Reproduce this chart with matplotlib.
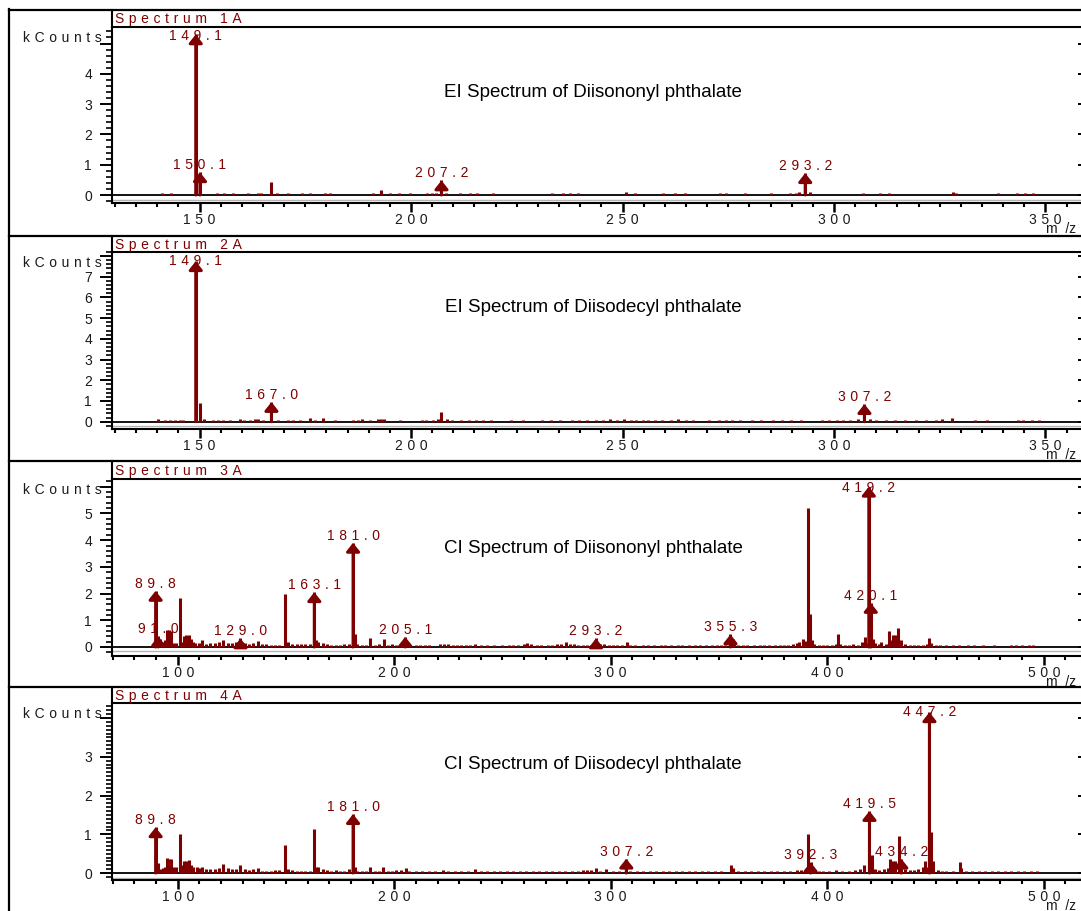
import matplotlib
matplotlib.use('Agg')
import matplotlib.pyplot as plt
from matplotlib.ticker import MultipleLocator, FixedLocator, FuncFormatter
from matplotlib.lines import Line2D

# ---------------- data ----------------
panel_titles = ['Spectrum 1A', 'Spectrum 2A', 'Spectrum 3A', 'Spectrum 4A']
compound_titles = ['EI Spectrum of Diisononyl phthalate',
                   'EI Spectrum of Diisodecyl phthalate',
                   'CI Spectrum of Diisononyl phthalate',
                   'CI Spectrum of Diisodecyl phthalate']
y_label = 'kCounts'
x_label = 'm  /z'

# Spectrum 1A (EI, DINP)
s1_mz = [141.1, 143.2, 149.1, 150.1, 154.1, 155.8, 158.0, 161.5, 163.8, 164.6,
         167.0, 168.2, 171.0, 174.2, 176.1, 179.7, 180.9, 191.1, 193.0, 195.0,
         197.2, 199.8, 203.7, 204.9, 205.9, 207.2, 208.3, 211.6, 213.9, 215.6,
         219.4, 233.3, 236.0, 237.6, 239.5, 250.8, 253.0, 259.6, 262.4, 264.8,
         273.0, 274.4, 279.0, 285.1, 289.6, 291.0, 291.8, 293.2, 294.3, 306.8,
         310.9, 313.0, 328.1, 328.8, 338.8, 343.3, 345.2, 347.0]
s1_int = [0.07, 0.07, 5.30, 0.75, 0.07, 0.07, 0.07, 0.07, 0.08, 0.07,
          0.44, 0.07, 0.06, 0.07, 0.08, 0.07, 0.08, 0.08, 0.18, 0.07,
          0.06, 0.06, 0.07, 0.07, 0.07, 0.48, 0.07, 0.06, 0.06, 0.06,
          0.06, 0.06, 0.06, 0.07, 0.07, 0.10, 0.07, 0.06, 0.06, 0.06,
          0.07, 0.07, 0.06, 0.06, 0.07, 0.08, 0.09, 0.72, 0.09, 0.06,
          0.06, 0.06, 0.09, 0.07, 0.06, 0.06, 0.06, 0.06]
s1_lab = ['149.1', '150.1', '207.2', '293.2']

# Spectrum 2A (EI, DIDP)
s2_mz = [140.2, 141.8, 143.0, 144.2, 145.4, 146.2, 149.1, 150.1, 151.1, 153.2,
         154.4, 155.6, 157.2, 159.6, 160.4, 161.9, 163.1, 163.9, 165.1, 167.0,
         168.6, 171.0, 172.2, 173.8, 176.1, 177.3, 179.2, 182.0, 186.3, 187.4,
         188.5, 190.2, 192.2, 193.0, 193.5, 197.4, 202.5, 203.6, 205.2, 206.4,
         207.1, 208.6, 209.7, 211.9, 213.6, 215.3, 216.9, 219.0, 223.6, 226.4,
         230.9, 233.1, 235.3, 238.1, 239.8, 241.5, 243.7, 245.4, 247.0, 248.7,
         250.4, 252.1, 253.2, 254.8, 256.0, 257.6, 259.3, 261.5, 263.2, 264.9,
         266.6, 270.5, 272.7, 274.4, 276.0, 277.7, 280.5, 282.7, 285.5, 287.7,
         289.9, 292.2, 297.2, 298.9, 300.6, 302.2, 303.9, 305.6, 307.2, 308.4,
         310.0, 312.3, 314.5, 316.7, 319.5, 321.7, 324.0, 325.6, 327.9, 333.4,
         336.2, 343.5, 344.6, 346.8, 348.5]
s2_int = [0.15, 0.10, 0.10, 0.10, 0.10, 0.10, 7.75, 0.90, 0.15, 0.10,
          0.10, 0.10, 0.10, 0.14, 0.10, 0.10, 0.12, 0.12, 0.10, 0.95,
          0.10, 0.10, 0.10, 0.10, 0.16, 0.10, 0.16, 0.10, 0.10, 0.10,
          0.12, 0.10, 0.12, 0.14, 0.12, 0.10, 0.10, 0.10, 0.10, 0.12,
          0.45, 0.12, 0.10, 0.10, 0.10, 0.10, 0.10, 0.10, 0.10, 0.10,
          0.10, 0.10, 0.10, 0.10, 0.10, 0.10, 0.10, 0.10, 0.12, 0.10,
          0.12, 0.10, 0.10, 0.10, 0.10, 0.10, 0.10, 0.10, 0.14, 0.10,
          0.10, 0.10, 0.10, 0.10, 0.10, 0.10, 0.10, 0.10, 0.10, 0.10,
          0.10, 0.10, 0.10, 0.10, 0.10, 0.10, 0.10, 0.12, 0.85, 0.12,
          0.10, 0.10, 0.10, 0.10, 0.10, 0.10, 0.10, 0.12, 0.16, 0.10,
          0.10, 0.10, 0.10, 0.10, 0.10]
s2_lab = ['149.1', '167.0', '307.2']

# Spectrum 3A (CI, DINP)
s3_mz = [89.8, 91.0, 92.0, 93.0, 94.0, 95.0, 96.0, 97.0, 98.0, 99.0,
         101.0, 102.0, 103.0, 104.0, 105.0, 106.0, 107.0, 108.0, 110.0, 111.0,
         113.0, 115.0, 117.0, 119.0, 121.0, 123.0, 125.0, 127.0, 129.0, 131.0,
         133.0, 135.0, 137.0, 139.0, 141.0, 143.0, 145.0, 147.0, 149.5, 151.0,
         153.0, 155.0, 157.0, 159.0, 161.0, 163.1, 164.0, 165.0, 167.0, 169.0,
         171.0, 173.0, 175.0, 177.0, 179.0, 181.0, 182.0, 183.0, 185.0, 187.0,
         189.0, 191.0, 193.0, 195.3, 197.0, 199.0, 201.0, 203.0, 205.1, 207.0,
         210.0, 212.0, 214.0, 216.0, 221.0, 223.0, 225.0, 227.0, 229.0, 231.0,
         233.0, 235.0, 237.2, 240.0, 243.0, 246.0, 250.0, 253.0, 255.0, 257.0,
         260.0, 261.5, 263.0, 266.0, 268.0, 271.0, 273.0, 275.0, 277.0, 279.2,
         281.0, 283.0, 285.0, 287.0, 289.0, 291.0, 293.2, 295.0, 297.0, 299.0,
         301.0, 303.0, 305.0, 307.7, 309.0, 311.0, 315.0, 317.0, 320.0, 323.0,
         325.0, 328.0, 331.0, 333.0, 336.0, 339.0, 341.0, 344.0, 347.0, 349.0,
         351.0, 353.0, 355.3, 356.3, 357.0, 359.0, 361.0, 363.0, 366.0, 369.0,
         371.0, 373.0, 376.0, 378.0, 380.0, 382.0, 384.0, 386.0, 387.0, 389.0,
         390.0, 391.0, 392.0, 393.0, 394.0, 396.0, 398.0, 400.0, 402.0, 404.0,
         405.1, 406.0, 408.0, 410.0, 412.0, 414.0, 416.0, 417.3, 418.0, 419.2,
         420.1, 421.0, 422.0, 424.0, 425.0, 427.0, 428.6, 429.5, 430.5, 431.5,
         432.9, 434.0, 436.0, 438.0, 440.0, 442.0, 444.0, 446.0, 447.1, 448.0,
         450.0, 452.0, 455.0, 458.0, 461.0, 465.0, 468.0, 472.0, 477.0, 485.0,
         487.0, 490.0, 493.0, 495.0]
s3_int = [2.10, 0.40, 0.30, 0.20, 0.25, 0.62, 0.62, 0.60, 0.15, 0.15,
          1.85, 0.20, 0.40, 0.45, 0.45, 0.30, 0.20, 0.15, 0.15, 0.25,
          0.12, 0.15, 0.15, 0.18, 0.28, 0.15, 0.15, 0.20, 0.32, 0.15,
          0.12, 0.15, 0.22, 0.10, 0.10, 0.08, 0.08, 0.08, 1.97, 0.20,
          0.12, 0.10, 0.10, 0.10, 0.12, 2.05, 0.25, 0.20, 0.15, 0.10,
          0.08, 0.08, 0.08, 0.10, 0.12, 3.90, 0.50, 0.12, 0.08, 0.08,
          0.35, 0.08, 0.10, 0.30, 0.08, 0.10, 0.08, 0.10, 0.38, 0.08,
          0.07, 0.07, 0.07, 0.07, 0.10, 0.12, 0.10, 0.08, 0.08, 0.08,
          0.08, 0.07, 0.12, 0.07, 0.07, 0.07, 0.07, 0.08, 0.08, 0.08,
          0.10, 0.15, 0.10, 0.07, 0.07, 0.07, 0.08, 0.10, 0.10, 0.20,
          0.12, 0.12, 0.07, 0.08, 0.08, 0.08, 0.32, 0.10, 0.10, 0.08,
          0.08, 0.07, 0.07, 0.18, 0.08, 0.07, 0.07, 0.07, 0.07, 0.07,
          0.07, 0.07, 0.07, 0.07, 0.07, 0.08, 0.08, 0.07, 0.07, 0.08,
          0.07, 0.07, 0.47, 0.30, 0.10, 0.08, 0.07, 0.07, 0.07, 0.08,
          0.08, 0.08, 0.07, 0.08, 0.07, 0.08, 0.10, 0.15, 0.17, 0.30,
          0.22, 5.20, 1.25, 0.25, 0.12, 0.08, 0.07, 0.07, 0.08, 0.10,
          0.50, 0.10, 0.08, 0.09, 0.10, 0.08, 0.20, 0.39, 0.15, 6.00,
          1.65, 0.30, 0.15, 0.10, 0.20, 0.12, 0.60, 0.25, 0.45, 0.45,
          0.72, 0.25, 0.10, 0.08, 0.07, 0.08, 0.08, 0.12, 0.33, 0.15,
          0.07, 0.07, 0.07, 0.07, 0.07, 0.07, 0.07, 0.07, 0.07, 0.07,
          0.07, 0.07, 0.07, 0.07]
s3_lab = ['89.8', '91.0', '129.0', '163.1', '181.0', '205.1', '293.2',
          '355.3', '419.2', '420.1']

# Spectrum 4A (CI, DIDP)
s4_mz = [89.8, 91.0, 92.0, 93.0, 94.0, 95.0, 96.0, 97.0, 98.0, 99.0,
         101.0, 102.0, 103.0, 104.0, 105.0, 106.0, 107.0, 109.0, 110.0, 111.0,
         113.0, 115.0, 117.0, 119.0, 121.0, 123.0, 125.0, 127.0, 129.0, 131.0,
         133.0, 135.0, 137.0, 139.0, 141.0, 143.0, 145.0, 147.0, 149.5, 151.0,
         153.0, 155.0, 157.0, 159.0, 161.0, 163.0, 164.0, 165.0, 167.0, 169.0,
         171.0, 173.0, 175.0, 177.0, 179.0, 181.0, 182.0, 183.0, 185.0, 187.0,
         189.0, 191.0, 193.0, 195.0, 197.0, 199.0, 201.0, 203.0, 205.4, 207.0,
         210.0, 213.0, 216.0, 219.0, 222.6, 225.0, 228.0, 231.0, 234.0, 237.2,
         240.0, 243.0, 246.0, 249.0, 252.0, 254.9, 258.0, 261.0, 264.0, 267.0,
         270.0, 273.0, 276.0, 279.0, 282.0, 285.0, 287.0, 289.0, 291.0, 293.4,
         295.0, 298.0, 301.0, 304.0, 307.2, 309.0, 312.0, 315.0, 318.0, 321.0,
         324.0, 327.0, 330.0, 333.0, 336.0, 339.0, 342.0, 345.0, 348.0, 351.0,
         355.4, 356.5, 359.0, 362.0, 365.0, 368.0, 371.0, 374.0, 377.0, 380.0,
         383.0, 386.0, 388.0, 390.0, 391.0, 392.3, 394.0, 396.0, 398.0, 401.0,
         404.0, 407.0, 410.0, 413.0, 415.0, 417.0, 419.5, 420.5, 422.0, 424.0,
         426.0, 428.0, 429.0, 430.5, 431.5, 433.0, 434.2, 436.0, 438.0, 440.0,
         442.0, 444.0, 445.0, 446.0, 447.2, 448.0, 449.0, 451.0, 453.0, 455.0,
         458.0, 461.3, 462.0, 464.0, 467.0, 470.0, 473.0, 476.0, 479.0, 482.0,
         485.0, 488.0, 491.0, 494.0, 497.0]
s4_int = [1.18, 0.27, 0.10, 0.12, 0.15, 0.38, 0.36, 0.36, 0.15, 0.15,
          1.02, 0.20, 0.30, 0.30, 0.33, 0.20, 0.15, 0.15, 0.12, 0.15,
          0.10, 0.10, 0.10, 0.12, 0.23, 0.12, 0.10, 0.10, 0.22, 0.10,
          0.08, 0.10, 0.12, 0.06, 0.06, 0.06, 0.07, 0.07, 0.73, 0.10,
          0.07, 0.06, 0.06, 0.06, 0.06, 1.13, 0.15, 0.15, 0.10, 0.07,
          0.06, 0.07, 0.06, 0.06, 0.10, 1.52, 0.15, 0.06, 0.06, 0.06,
          0.15, 0.06, 0.06, 0.15, 0.06, 0.06, 0.07, 0.07, 0.13, 0.06,
          0.05, 0.05, 0.05, 0.05, 0.08, 0.06, 0.05, 0.05, 0.06, 0.10,
          0.05, 0.05, 0.05, 0.05, 0.05, 0.06, 0.05, 0.05, 0.05, 0.05,
          0.05, 0.06, 0.05, 0.06, 0.06, 0.06, 0.07, 0.08, 0.08, 0.12,
          0.06, 0.10, 0.06, 0.05, 0.37, 0.05, 0.05, 0.05, 0.05, 0.05,
          0.05, 0.05, 0.05, 0.05, 0.05, 0.05, 0.05, 0.05, 0.06, 0.06,
          0.22, 0.12, 0.05, 0.05, 0.05, 0.05, 0.05, 0.05, 0.05, 0.05,
          0.06, 0.07, 0.08, 0.10, 1.00, 0.28, 0.08, 0.06, 0.05, 0.06,
          0.07, 0.05, 0.06, 0.08, 0.10, 0.20, 1.60, 0.46, 0.10, 0.08,
          0.10, 0.12, 0.36, 0.30, 0.30, 0.95, 0.37, 0.10, 0.07, 0.07,
          0.10, 0.15, 0.30, 0.15, 4.15, 1.05, 0.30, 0.07, 0.06, 0.06,
          0.06, 0.28, 0.12, 0.06, 0.05, 0.05, 0.05, 0.05, 0.05, 0.05,
          0.05, 0.05, 0.05, 0.05, 0.05]
s4_lab = ['89.8', '181.0', '307.2', '392.3', '419.5', '434.2', '447.2']

ei_xticks = [150, 200, 250, 300, 350]
ci_xticks = [100, 200, 300, 400, 500]

spectra = [(s1_mz, s1_int, s1_lab), (s2_mz, s2_int, s2_lab),
           (s3_mz, s3_int, s3_lab), (s4_mz, s4_int, s4_lab)]

# ---------------- layout / style ----------------
W, H, DPI = 1081, 911, 100
RED = '#7f0000'
INK = '#1a1a1a'
FONT = ['Liberation Sans', 'DejaVu Sans']
plt.rcParams['font.family'] = FONT
SP = '\u2004'


def spaced(s):
    return SP.join(s)


def fx(px):
    return px / W


def fy(py):
    return 1 - py / H


frame_y = [10, 235.5, 461, 686.5]
ax_top = [27, 251.7, 479, 703]
ax_bot = [203, 429.3, 656, 880]
ylims = [(-0.264, 5.545), (-0.367, 8.21), (-0.337, 6.29), (-0.18, 4.39)]
xlims = [(129.3, 358.4), (129.3, 358.4), (69.65, 517.2), (69.65, 517.2)]
xticks = [ei_xticks, ei_xticks, ci_xticks, ci_xticks]
xminor = [5, 5, 10, 10]
yminor = [0.2, 0.2, 0.2, 0.1]
name_base = [97, 312, 553, 769]
AX_L = 112

fig = plt.figure(figsize=(W / DPI, H / DPI), dpi=DPI)
fig.patch.set_facecolor('white')

# outer frame
fig.add_artist(Line2D([fx(9), fx(9)], [fy(9), fy(H + 5)], color='black', lw=1.6))

for i in range(4):
    mz, inten, labs = spectra[i]
    ax = fig.add_axes([fx(AX_L), fy(ax_bot[i]), 1 - fx(AX_L),
                       (ax_bot[i] - ax_top[i]) / H])
    y0, y1 = ylims[i]
    ax.set_xlim(*xlims[i])
    ax.set_ylim(y0, y1)
    ppu = (ax_bot[i] - ax_top[i]) / (y1 - y0)

    # frame line of the panel and extended y axis through the title band
    fig.add_artist(Line2D([fx(9), 1.0], [fy(frame_y[i]), fy(frame_y[i])],
                          color='black', lw=1.6))
    fig.add_artist(Line2D([fx(AX_L), fx(AX_L)], [fy(frame_y[i]), fy(ax_top[i])],
                          color='black', lw=1.5))

    # baseline and grey line below it
    ax.axhline(0, color='black', lw=1.3, zorder=1)
    ax.axhline(-4.5 / ppu, color='#b4b4b4', lw=1.0, zorder=1)

    # peaks
    ax.vlines(mz, 0, inten, color=RED, lw=2.2, zorder=2)

    lookup = dict(zip(mz, inten))
    for lab in labs:
        m = float(lab)
        h = lookup[m]
        ax.annotate('', xy=(m, h), xytext=(m, 0),
                    arrowprops=dict(arrowstyle='-|>,head_length=0.5,head_width=0.4',
                                    color=RED, lw=2.2, shrinkA=0, shrinkB=0,
                                    mutation_scale=10), zorder=3)
        ty = min(h + 3.0 / ppu, y1 - 13.5 / ppu)
        ax.text(m, ty, spaced(lab), color=RED, fontsize=10, ha='center',
                va='baseline', zorder=4)

    # spines
    for side in ['left', 'bottom', 'top']:
        ax.spines[side].set_linewidth(1.5)
        ax.spines[side].set_color('black')
    ax.spines['right'].set_visible(False)

    # x axis
    ax.xaxis.set_major_locator(FixedLocator(xticks[i]))
    ax.xaxis.set_minor_locator(MultipleLocator(xminor[i]))
    ax.xaxis.set_major_formatter(FuncFormatter(lambda v, p: spaced(f'{v:.0f}')))
    ax.tick_params(axis='x', which='major', direction='out', length=6.3, width=1.8,
                   pad=0.8, labelsize=10, labelcolor=INK, top=False)
    ax.tick_params(axis='x', which='minor', direction='out', length=3.2, width=1.5,
                   top=False)

    # y axis
    ax.yaxis.set_major_locator(MultipleLocator(1))
    ax.yaxis.set_minor_locator(MultipleLocator(yminor[i]))
    ax.yaxis.set_major_formatter(FuncFormatter(
        lambda v, p, top=y1: '' if (v > top - 1 or v < 0) else f'{v:.0f}'))
    ax.tick_params(axis='y', which='major', direction='out', length=8.6, width=1.4,
                   pad=5.8, labelsize=10, labelcolor=INK)
    ax.tick_params(axis='y', which='minor', direction='out', length=4.3, width=1.2)

    # right-side tick marks
    ax2 = ax.twinx()
    ax2.set_ylim(y0, y1)
    ax2.yaxis.set_major_locator(MultipleLocator(1))
    ax2.tick_params(axis='y', which='major', direction='in', length=2.5, width=1.4,
                    labelright=False, right=True)
    ax2.tick_params(axis='y', which='minor', right=False)
    for s in ax2.spines.values():
        s.set_visible(False)

    # texts
    fig.text(fx(115), fy(frame_y[i] + 9.5), spaced(panel_titles[i]), color=RED,
             fontsize=10, ha='left', va='center')
    fig.text(fx(102), fy(ax_top[i] + 11.5), spaced(y_label), color=INK,
             fontsize=10, ha='right', va='center')
    fig.text(fx(593), fy(name_base[i]), compound_titles[i], color='black',
             fontsize=13.5, ha='center', va='baseline')
    fig.text(fx(1046), fy(ax_bot[i] + 26), x_label, color=INK,
             fontsize=10, ha='left', va='center')

fig.savefig('out.png', dpi=DPI)
